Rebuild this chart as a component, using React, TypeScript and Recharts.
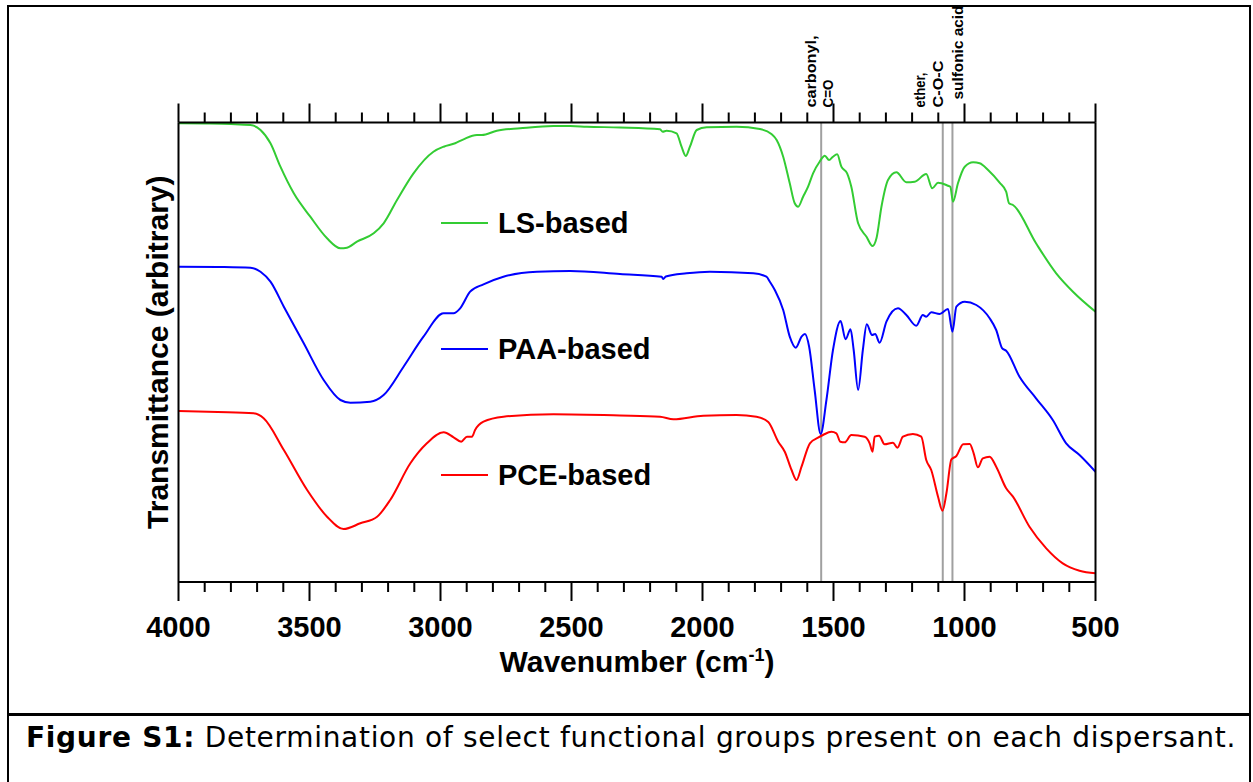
import React from 'react'
import { LineChart, Line, XAxis, YAxis, ReferenceLine, Legend } from 'recharts'

// wavenumbers (cm-1) and transmittance (arbitrary units, offset traces)
const WN_LS = [
  4000, 3900, 3800, 3725, 3687, 3649, 3611, 3560, 3497, 3433, 3382, 3357, 3319, 3255, 3217, 3166,
  3103, 3027, 2988, 2944, 2912, 2861, 2842, 2785, 2696, 2569, 2505, 2442, 2315, 2162, 2152, 2137,
  2099, 2080, 2064, 2048, 2022, 1984, 1870, 1781, 1737, 1717, 1692, 1667, 1648, 1635, 1616, 1597,
  1578, 1553, 1533, 1517, 1502, 1486, 1470, 1448, 1432, 1406, 1374, 1351, 1336, 1317, 1292, 1260,
  1222, 1190, 1146, 1123, 1101, 1063, 1054, 1044, 1025, 999, 967, 942, 910, 866, 841, 830, 815,
  727, 650, 586, 500,
]
const T_LS = [
  458.7, 458.5, 458, 457, 452, 438.7, 415.3, 388.7, 365.3, 343.7, 333.7, 334.3, 340.3, 348.7, 358.7, 382,
  408.7, 430.3, 435.3, 438.7, 442.7, 447, 447, 451.3, 453.7, 456, 456, 455.3, 454.5, 452.7, 450.3, 451.3,
  448.7, 435.3, 426, 435.3, 452, 454.7, 455.3, 453, 448, 442, 425.3, 398.7, 378.7, 375.3, 385.3, 395.3,
  408.7, 420.3, 426.3, 422, 425.3, 427.7, 415.3, 408.7, 395.3, 358.7, 345.3, 336, 343.7, 375.3, 402, 409.7,
  399.7, 400.3, 408, 393.7, 399.3, 396.3, 395.3, 380.3, 398.7, 415.3, 419.7, 418.7, 412, 399.3, 390.3, 378.7, 377,
  338.7, 308.7, 290.3, 270.3,
]

const WN_PAA = [
  4000, 3850, 3725, 3687, 3649, 3598, 3522, 3446, 3382, 3344, 3268, 3217, 3141, 3065, 2988, 2950,
  2925, 2887, 2836, 2760, 2632, 2505, 2315, 2156, 2150, 2140, 2061, 1972, 1806, 1756, 1743, 1724,
  1692, 1667, 1644, 1622, 1609, 1593, 1572, 1549, 1527, 1502, 1473, 1454, 1435, 1423, 1406, 1388,
  1373, 1353, 1341, 1324, 1298, 1254, 1222, 1184, 1159, 1146, 1127, 1095, 1063, 1046, 1031, 999,
  955, 904, 879, 856, 841, 790, 727, 663, 612, 561, 500,
]
const T_PAA = [
  315.3, 315, 314.3, 310.3, 300.3, 275.3, 238.7, 202, 182, 179.3, 180.3, 187, 215.3, 245.3, 268.7, 268.7,
  273.7, 290.3, 297.7, 305.3, 310.3, 311, 308, 305.3, 303, 305.5, 308.7, 310.3, 308.7, 305.3, 300.3, 292,
  272, 245.3, 234.3, 245.3, 248, 235.3, 192, 148, 182, 232, 261, 242.7, 252.7, 232, 192, 232,
  257.7, 247, 248, 239.3, 260.3, 273.7, 267, 256.3, 267, 265.3, 269.7, 268, 273, 250.3, 275.3, 280.3,
  277, 263.7, 252, 233.7, 231.3, 205.3, 183.7, 162, 138.7, 127, 110.3,
]

const WN_PCE = [
  4000, 3850, 3713, 3675, 3598, 3509, 3433, 3370, 3306, 3242, 3192, 3115, 3052, 2988, 2950, 2921,
  2899, 2880, 2868, 2836, 2760, 2569, 2315, 2162, 2111, 1997, 1870, 1794, 1749, 1711, 1686, 1660,
  1641, 1622, 1590, 1559, 1540, 1508, 1489, 1474, 1457, 1432, 1381, 1362, 1351, 1343, 1326, 1305,
  1273, 1256, 1235, 1197, 1165, 1146, 1127, 1101, 1084, 1069, 1050, 1031, 1005, 980, 965, 949,
  930, 904, 879, 841, 815, 752, 688, 625, 561, 500,
]
const T_PCE = [
  171, 170, 168.7, 163.7, 132, 92, 65.3, 53, 58.7, 65.3, 82, 118.7, 138.7, 149.7, 144.7, 140.3,
  145.3, 145.3, 152, 160.3, 165.3, 167.7, 166.5, 165.3, 162.7, 166.3, 167, 165.3, 160, 140.3, 130.3, 112,
  102, 115.3, 138.7, 144.3, 147, 150.3, 148.7, 140.3, 139.7, 147, 145.3, 138.7, 130.3, 145.3, 146.3, 137.7,
  139.3, 134.3, 145.3, 148, 145.3, 122, 112, 85.3, 71.3, 88.7, 122.7, 126, 137.7, 138, 128.7, 114.7,
  123.7, 125.3, 115.3, 93.7, 85.3, 55.3, 33.7, 18.7, 11.3, 8.7,
]

const X_TICKS = [
  500, 600, 700, 800, 900, 1000, 1100, 1200, 1300, 1400, 1500, 1600, 1700, 1800, 1900, 2000, 2100, 2200,
  2300, 2400, 2500, 2600, 2700, 2800, 2900, 3000, 3100, 3200, 3300, 3400, 3500, 3600, 3700, 3800, 3900, 4000,
]

const MARKERS = [
  { wn: 1547, lines: ['carbonyl,', 'C=O'], dx: [-5, 12], len: [72, 28], dy: 15 },
  { wn: 1083, lines: ['ether,', 'C-O-C'], dx: [-18, 0], len: [35, 47], dy: 15 },
  { wn: 1046, lines: ['sulfonic acid'], dx: [11], len: [94], dy: 23 },
]

const SERIES = [
  { name: 'LS-based', color: '#33cc33', wn: WN_LS, t: T_LS },
  { name: 'PAA-based', color: '#0000ff', wn: WN_PAA, t: T_PAA },
  { name: 'PCE-based', color: '#ff0000', wn: WN_PCE, t: T_PCE },
]

const FONT = '"Liberation Sans", Arial, sans-serif'
const AX = 1 // axis box thickness
const PLOT_H = 459.5

// bottom ticks + labels, and the mirrored ticks on the top frame edge
const BottomTick = (props: any) => {
  const { x, y, payload } = props
  const major = payload.value % 500 === 0
  const top = y - PLOT_H
  return (
    <g>
      <line x1={x} x2={x} y1={y} y2={y + (major ? 19 : 10)} stroke="#000" strokeWidth={2} />
      <line x1={x} x2={x} y1={top} y2={top - (major ? 19 : 10)} stroke="#000" strokeWidth={2} />
      {major && (
        <text x={x} y={y + 55} textAnchor="middle" fontFamily={FONT} fontWeight="bold" fontSize={29} fill="#000">
          {payload.value}
        </text>
      )}
    </g>
  )
}

const MarkerLabel = (props: any, m: any) => {
  const vb = props.viewBox || {}
  const x0 = vb.x
  const y0 = vb.y - m.dy
  return (
    <g>
      {m.lines.map((s: string, i: number) => (
        <text
          key={s}
          x={x0 + m.dx[i]}
          y={y0}
          transform={`rotate(-90 ${x0 + m.dx[i]} ${y0})`}
          textLength={m.len[i]}
          lengthAdjust="spacingAndGlyphs"
          fontFamily={FONT}
          fontWeight="bold"
          fontSize={14}
          fill="#000"
        >
          {s}
        </text>
      ))}
    </g>
  )
}

const LegendBox = (props: any) => {
  const items = props.payload || []
  return (
    <div style={{ fontFamily: FONT }}>
      {items.map((it: any) => (
        <div key={it.value} style={{ height: 126, display: 'flex', alignItems: 'center' }}>
          <div style={{ width: 47, height: 2, background: it.color, marginRight: 10 }} />
          <span style={{ fontSize: 29, fontWeight: 'bold', color: '#000', lineHeight: 1 }}>{it.value}</span>
        </div>
      ))}
    </div>
  )
}

export default function App() {
  return (
    <div style={{ position: 'absolute', left: 0, top: 0, width: 1253, height: 782, overflow: 'hidden', background: '#fff' }}>
      <div
        style={{
          position: 'absolute',
          left: 7,
          top: 5,
          width: 1244,
          height: 820,
          border: '2px solid #000',
          boxSizing: 'border-box',
        }}
      />
      <div style={{ position: 'absolute', left: 7, top: 713, width: 1244, height: 3, background: '#000' }} />
      <div
        style={{
          position: 'absolute',
          left: 26,
          top: 724,
          fontFamily: '"DejaVu Sans", Verdana, sans-serif',
          fontSize: 28,
          lineHeight: 1,
          letterSpacing: 0.7,
          color: '#000',
          whiteSpace: 'nowrap',
        }}
      >
        <b>Figure S1:</b> Determination of select functional groups present on each dispersant.
      </div>
      <div style={{ position: 'absolute', left: 0, top: 0 }}>
        <LineChart
          width={1253}
          height={782}
          margin={{ top: 122.5 - AX, right: 157.5 - AX, bottom: 200 - AX, left: 178.5 - AX }}
        >
          <XAxis
            xAxisId="bottom"
            dataKey="w"
            type="number"
            domain={[500, 4000]}
            reversed
            allowDataOverflow
            ticks={X_TICKS}
            interval={0}
            height={AX}
            tickSize={0}
            tickMargin={0}
            axisLine={{ stroke: '#000', strokeWidth: 2 }}
            tickLine={false}
            tick={(p: any) => <BottomTick {...p} />}
            label={(p: any) => {
              const vb = p.viewBox || {}
              return (
                <text
                  x={vb.x + vb.width / 2}
                  y={vb.y + 90}
                  textAnchor="middle"
                  fontFamily={FONT}
                  fontWeight="bold"
                  fontSize={30}
                  fill="#000"
                >
                  <tspan>Wavenumber (cm</tspan>
                  <tspan dy={-11} fontSize={18}>-1</tspan>
                  <tspan dy={11}>)</tspan>
                </text>
              )
            }}
          />
          <XAxis
            xAxisId="top"
            orientation="top"
            type="number"
            domain={[500, 4000]}
            reversed
            allowDataOverflow
            height={AX}
            tick={false}
            tickLine={false}
            axisLine={{ stroke: '#000', strokeWidth: 2 }}
          />
          <YAxis
            yAxisId="l"
            type="number"
            domain={[0, PLOT_H]}
            allowDataOverflow
            width={AX}
            tick={false}
            tickLine={false}
            axisLine={{ stroke: '#000', strokeWidth: 2 }}
            label={(p: any) => {
              const vb = p.viewBox || {}
              const cx = vb.x + vb.width - 21.5
              const cy = vb.y + vb.height / 2
              return (
                <text
                  x={cx}
                  y={cy}
                  transform={`rotate(-90 ${cx} ${cy})`}
                  textAnchor="middle"
                  dominantBaseline="central"
                  fontFamily={FONT}
                  fontWeight="bold"
                  fontSize={30}
                  fill="#000"
                >
                  Transmittance (arbitrary)
                </text>
              )
            }}
          />
          <YAxis
            yAxisId="r"
            orientation="right"
            type="number"
            domain={[0, PLOT_H]}
            width={AX}
            tick={false}
            tickLine={false}
            axisLine={{ stroke: '#000', strokeWidth: 2 }}
          />
          {MARKERS.map((m) => (
            <ReferenceLine
              key={m.wn}
              x={m.wn}
              xAxisId="bottom"
              yAxisId="l"
              stroke="#a0a0a0"
              strokeWidth={2}
              label={(p: any) => MarkerLabel(p, m)}
            />
          ))}
          {SERIES.map((s) => (
            <Line
              key={s.name}
              name={s.name}
              data={s.wn.map((w, i) => ({ w, t: s.t[i] }))}
              dataKey="t"
              xAxisId="bottom"
              yAxisId="l"
              type="monotone"
              stroke={s.color}
              strokeWidth={2}
              dot={false}
              activeDot={false}
              isAnimationActive={false}
            />
          ))}
          <Legend
            layout="vertical"
            align="center"
            verticalAlign="middle"
            content={(p: any) => <LegendBox {...p} />}
            wrapperStyle={{ left: 441, top: 160, width: 300 }}
          />
        </LineChart>
      </div>
    </div>
  )
}
